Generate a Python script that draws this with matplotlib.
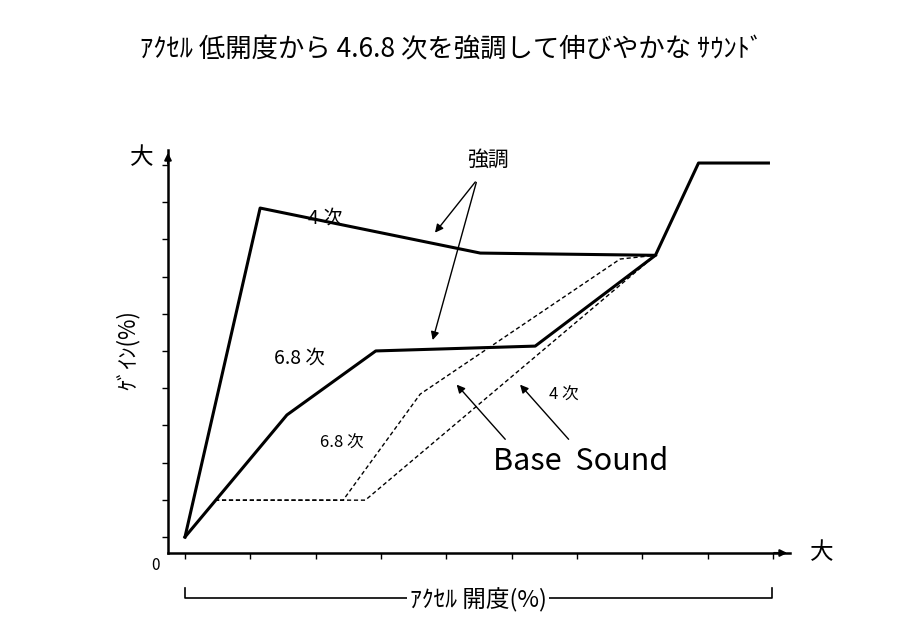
import matplotlib.pyplot as plt

plt.rcParams['font.family'] = ['Noto Sans CJK JP', 'DejaVu Sans']

# accelerator opening (%) and gain (relative units)
x_4th = [0, 11.5, 45.2, 72.0, 78.6, 89.3]
y_4th = [0.43, 9.27, 8.06, 8.0, 10.48, 10.48]
x_68th = [0, 15.6, 29.2, 53.6, 72.0]
y_68th = [0.43, 3.71, 5.43, 5.56, 8.0]
x_base_68 = [4.6, 24.2, 36.0, 66.6, 72.0]
y_base_68 = [1.42, 1.42, 4.27, 7.9, 8.0]
x_base_4 = [4.6, 27.6, 72.0]
y_base_4 = [1.42, 1.42, 8.0]

x_ticks = list(range(0, 100, 10))
y_ticks = [0.43 + k for k in range(11)]

W, H = 902, 643
fig = plt.figure(figsize=(W / 100, H / 100), dpi=100)
# axes placed in pixel terms: left 168, right 790, bottom 553, top 150
ax = fig.add_axes([168 / W, 1 - 553 / H, (790 - 168) / W, (553 - 150) / H])
ax.set_xlim(-2.6, 92.6)
ax.set_ylim(0, 10.83)

ax.plot(x_4th, y_4th, color='black', lw=2.2)
ax.plot(x_68th, y_68th, color='black', lw=2.2)
ax.plot(x_base_68, y_base_68, color='black', lw=1, ls=(0, (3, 2)))
ax.plot(x_base_4, y_base_4, color='black', lw=1, ls=(0, (3, 2)))

for s in ['top', 'right']:
    ax.spines[s].set_visible(False)
for s in ['left', 'bottom']:
    ax.spines[s].set_linewidth(1.8)
ax.set_xticks(x_ticks)
ax.set_yticks(y_ticks)
ax.set_xticklabels([])
ax.set_yticklabels([])
ax.tick_params(length=4, width=1, direction='out')

# axis arrows
ax.annotate('', xy=(1.0, 0), xycoords='axes fraction', xytext=(0.97, 0),
            arrowprops=dict(arrowstyle='-|>', color='black', lw=1.5))
ax.annotate('', xy=(0, 1.0), xycoords='axes fraction', xytext=(0, 0.96),
            arrowprops=dict(arrowstyle='-|>', color='black', lw=1.5))

arrow = dict(arrowstyle='-|>', color='black', lw=1, mutation_scale=12)
# 強調 arrows
ax.text(46.4, 10.56, '強調', fontsize=15, ha='center', va='center')
ax.annotate('', xy=(38.0, 8.55), xytext=(44.7, 10.03), arrowprops=arrow)
ax.annotate('', xy=(37.8, 5.65), xytext=(44.7, 10.03), arrowprops=arrow)
# Base Sound arrows
ax.annotate('', xy=(41.3, 4.58), xytext=(49.3, 3.0), arrowprops=arrow)
ax.annotate('', xy=(51.0, 4.58), xytext=(59.0, 3.0), arrowprops=arrow)

ax.text(21.5, 9.0, '4 次', fontsize=14, ha='center', va='center')
ax.text(17.5, 5.25, '6.8 次', fontsize=14, ha='center', va='center')
ax.text(24.0, 2.95, '6.8 次', fontsize=12, ha='center', va='center')
ax.text(58.0, 4.25, '4 次', fontsize=12, ha='center', va='center')
ax.text(60.5, 2.45, 'Base  Sound', fontsize=22, ha='center', va='center')

# figure-level labels (pixel positions)
def ftext(px, py, s, **kw):
    fig.text(px / W, 1 - py / H, s, ha='center', va='center', **kw)

ftext(452, 50, 'ｱｸｾﾙ 低開度から 4.6.8 次を強調して伸びやかな ｻｳﾝﾄﾞ', fontsize=19)
ftext(142, 158, '大', fontsize=17)
ftext(822, 553, '大', fontsize=17)
ftext(156, 566, '0', fontsize=11)
ftext(128, 350, 'ｹﾞｲﾝ(%)', fontsize=16, rotation=90)
ftext(478, 600, 'ｱｸｾﾙ 開度(%)', fontsize=17,
      bbox=dict(facecolor='white', edgecolor='none', pad=2))

# bracket under x axis
bx = [185 / W, 185 / W, 772 / W, 772 / W]
by = [1 - 588 / H, 1 - 598 / H, 1 - 598 / H, 1 - 588 / H]
fig.add_artist(plt.Line2D(bx, by, color='black', lw=1.2, zorder=0))

fig.savefig('out.png', dpi=100)
